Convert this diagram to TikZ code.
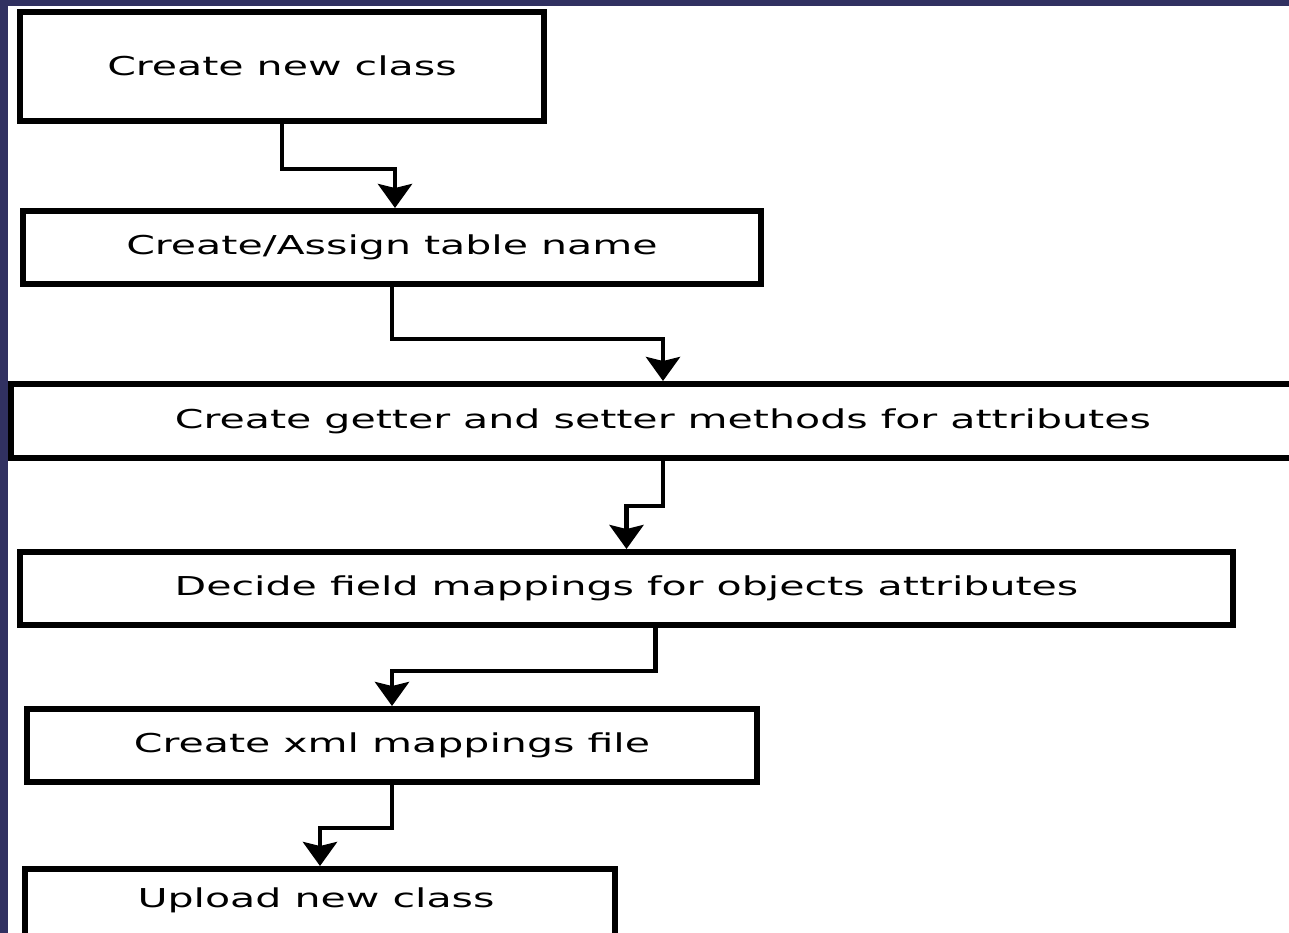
\documentclass[tikz,border=0pt]{standalone}
\usepackage{fontspec}
\usepackage{graphicx}
\newfontfamily\dv{DejaVu Sans}
\usetikzlibrary{arrows.meta}
\definecolor{navy}{RGB}{49,49,97}
\tikzset{
  stepbox/.style={draw=black, line width=6pt, fill=white, inner sep=0pt, anchor=north west, align=center},
  conn/.style={draw=black, line width=4.5pt, -{Stealth[length=24pt, width=34pt, inset=4pt]}},
}
\newcommand{\lbl}[1]{\scalebox{1.58}[1]{\dv\fontsize{26pt}{30pt}\selectfont #1}}
\begin{document}
\begin{tikzpicture}[x=1pt, y=-1pt]
\useasboundingbox (0,0) rectangle (1289,933);
\clip (0,0) rectangle (1289,933);
\fill[navy] (0,0) rectangle (1289,933);
\fill[white] (8,6) rectangle (1289,933);
% boxes
\node[stepbox, minimum width=524pt, minimum height=109pt] (b1) at (17,9) {\raisebox{2pt}{\lbl{Create new class}}};
\node[stepbox, minimum width=738pt, minimum height=73pt] (b2) at (20,208) {\lbl{Create/Assign table name}};
\node[stepbox, minimum width=1304pt, minimum height=74pt] (b3) at (8,381) {\lbl{Create getter and setter methods for attributes}};
\node[stepbox, minimum width=1213pt, minimum height=73pt] (b4) at (17,549) {\lbl{Decide field mappings for objects attributes}};
\node[stepbox, minimum width=730pt, minimum height=73pt] (b5) at (24,706) {\lbl{Create xml mappings file}};
\node[stepbox, minimum width=590pt, minimum height=94pt] (b6) at (22,866) {};
\node (t6) at (316,900) {\lbl{Upload new class}};
% connectors
\draw[conn] (b1.south) -- ++(0,45) -| ([xshift=3pt]b2.north);
\draw[conn] (b2.south) -- ++(0,52) -| (b3.north);
\draw[conn] (b3.south) -- ++(0,45) -| (b4.north);
\draw[conn] ([xshift=29pt]b4.south) -- ++(0,43) -| (b5.north);
\draw[conn] (b5.south) -- ++(0,43) -| (b6.north);
\end{tikzpicture}
\end{document}
